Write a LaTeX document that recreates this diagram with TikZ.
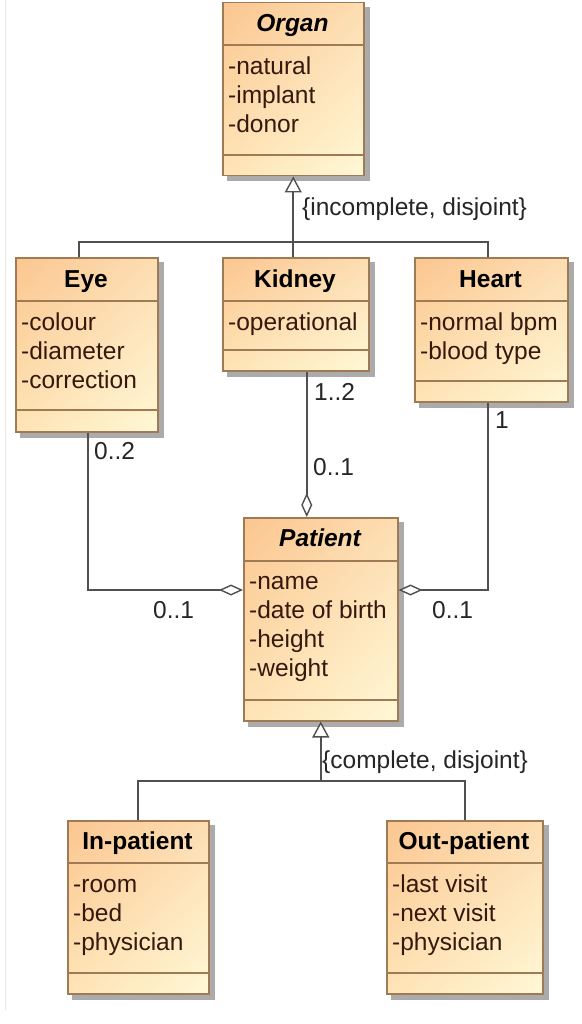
\documentclass[tikz,border=0pt]{standalone}
\usepackage{fontspec}
\setmainfont{Liberation Sans}
\usetikzlibrary{arrows.meta,shadings,calc,backgrounds}
\definecolor{boxborder}{HTML}{9E7A55}
\definecolor{shadowgray}{HTML}{ABABAB}
\definecolor{cUL}{HTML}{FBC690}
\definecolor{cUR}{HTML}{FDDDB2}
\definecolor{cLL}{HTML}{FEE4B6}
\definecolor{cLR}{HTML}{FFF8D6}
\definecolor{attrcol}{HTML}{35180E}
\definecolor{linecol}{HTML}{505050}
\definecolor{framecol}{HTML}{E6E6E6}
\newcommand\umlfont{\fontsize{24.5}{29}\selectfont}
\tikzset{
  classbox/.style={rectangle, draw=boxborder, line width=1.5pt, anchor=north west, inner sep=0pt,
    upper left=cUL, upper right=cUR, lower left=cLL, lower right=cLR},
  shadowbox/.style={fill=shadowgray},
  sepline/.style={draw=boxborder, line width=1.5pt},
  ctitle/.style={anchor=base, inner sep=0pt, font=\umlfont\bfseries, text=black},
  ctitleit/.style={anchor=base, inner sep=0pt, font=\umlfont\bfseries\itshape, text=black},
  attr/.style={anchor=base west, inner sep=0pt, font=\umlfont, text=attrcol},
  lbl/.style={anchor=base west, inner sep=0pt, font=\umlfont, text=black!85},
  conn/.style={draw=linecol, line width=1.6pt},
  aggr/.style={conn, -{Diamond[open, fill=white, length=24pt, width=11pt, line width=1.4pt]}},
  gen/.style={conn, -{Triangle[open, fill=white, length=16pt, width=17pt, line width=1.4pt]}},
}
\begin{document}
\begin{tikzpicture}[x=1pt, y=-1pt]
\useasboundingbox (0,0) rectangle (581,1024);

% class boxes
\node[classbox, minimum width=141pt, minimum height=173pt] (organ) at (222,2) {};
\node[classbox, minimum width=142pt, minimum height=174pt] (eye) at (15,257) {};
\node[classbox, minimum width=146pt, minimum height=113pt] (kidney) at (222,257) {};
\node[classbox, minimum width=153pt, minimum height=144pt] (heart) at (414,257) {};
\node[classbox, minimum width=154pt, minimum height=203pt] (patient) at (243,517) {};
\node[classbox, minimum width=141pt, minimum height=173pt] (inpat) at (67,820) {};
\node[classbox, minimum width=156pt, minimum height=173pt] (outpat) at (386,820) {};

\begin{scope}[on background layer]
  \fill[white] (0,0) rectangle (581,1024);
  \draw[framecol, line width=0.8pt] (5,0) -- (5,1010);
  \foreach \b in {organ,eye,kidney,heart,patient,inpat,outpat}{
    \fill[shadowbox] ($(\b.north west)+(5,5)$) rectangle ($(\b.south east)+(5,5)$);
  }
\end{scope}

% compartment separators
\draw[sepline] (organ.west |- 0,45) -- (organ.east |- 0,45);
\draw[sepline] (organ.west |- 0,155) -- (organ.east |- 0,155);
\draw[sepline] (eye.west |- 0,301) -- (eye.east |- 0,301);
\draw[sepline] (eye.west |- 0,410) -- (eye.east |- 0,410);
\draw[sepline] (kidney.west |- 0,301) -- (kidney.east |- 0,301);
\draw[sepline] (kidney.west |- 0,350) -- (kidney.east |- 0,350);
\draw[sepline] (heart.west |- 0,301) -- (heart.east |- 0,301);
\draw[sepline] (heart.west |- 0,381) -- (heart.east |- 0,381);
\draw[sepline] (patient.west |- 0,561) -- (patient.east |- 0,561);
\draw[sepline] (patient.west |- 0,700) -- (patient.east |- 0,700);
\draw[sepline] (inpat.west |- 0,863) -- (inpat.east |- 0,863);
\draw[sepline] (inpat.west |- 0,973) -- (inpat.east |- 0,973);
\draw[sepline] (outpat.west |- 0,863) -- (outpat.east |- 0,863);
\draw[sepline] (outpat.west |- 0,973) -- (outpat.east |- 0,973);

% texts
\node[ctitleit] (organ-t) at (292.5,32) {Organ};
\node[attr] (organ-a1) at (228,75) {-natural};
\node[attr] (organ-a2) at (228,104) {-implant};
\node[attr] (organ-a3) at (228,133) {-donor};

\node[ctitle] (eye-t) at (86,287) {Eye};
\node[attr] (eye-a1) at (21,330) {-colour};
\node[attr] (eye-a2) at (21,359) {-diameter};
\node[attr] (eye-a3) at (21,388) {-correction};

\node[ctitle] (kidney-t) at (295,287) {Kidney};
\node[attr] (kidney-a1) at (228,330) {-operational};

\node[ctitle] (heart-t) at (490.5,287) {Heart};
\node[attr] (heart-a1) at (420,330) {-normal bpm};
\node[attr] (heart-a2) at (420,359) {-blood type};

\node[ctitleit] (patient-t) at (320,546) {Patient};
\node[attr] (patient-a1) at (249,589) {-name};
\node[attr] (patient-a2) at (249,618) {-date of birth};
\node[attr] (patient-a3) at (249,647) {-height};
\node[attr] (patient-a4) at (249,676) {-weight};

\node[ctitle] (inpat-t) at (137.5,849) {In-patient};
\node[attr] (inpat-a1) at (73,892) {-room};
\node[attr] (inpat-a2) at (73,921) {-bed};
\node[attr] (inpat-a3) at (73,950) {-physician};

\node[ctitle] (outpat-t) at (464,849) {Out-patient};
\node[attr] (outpat-a1) at (392,892) {-last visit};
\node[attr] (outpat-a2) at (392,921) {-next visit};
\node[attr] (outpat-a3) at (392,950) {-physician};

% generalization: organ
\coordinate (gorg) at (organ.south |- 0,242);
\coordinate (eyetop) at ($(eye.north)+(-8,0)$);
\coordinate (hearttop) at ($(heart.north)+(-3,0)$);
\draw[conn] (eyetop) |- (gorg) -| (hearttop);
\draw[gen] (organ.south |- kidney.north) -- (organ.south);
\node[lbl] (incl) at (302,215) {\{incomplete, disjoint\}};

% aggregations
\coordinate (peye) at (patient.west |- 0,590);
\coordinate (pheart) at (patient.east |- 0,590);
\coordinate (eyebot) at ($(eye.south)+(1,0)$);
\coordinate (kidbot) at ($(kidney.south)+(11,0)$);
\coordinate (heartbot) at ($(heart.south)+(-3,0)$);
\draw[aggr] (eyebot) |- (peye);
\draw[aggr] (kidbot) -- (kidbot |- patient.north);
\draw[aggr] (heartbot) |- (pheart);
\node[lbl] (m-eye1) at (94,459) {0..2};
\node[lbl] (m-eye2) at (153,618) {0..1};
\node[lbl] (m-kid1) at (314,400) {1..2};
\node[lbl] (m-kid2) at (313,475) {0..1};
\node[lbl] (m-hea1) at (495,428) {1};
\node[lbl] (m-hea2) at (432,618) {0..1};

% generalization: patient
\coordinate (gpat) at (patient.south |- 0,781);
\draw[conn] (inpat.north) |- (gpat) -| (outpat.north);
\draw[gen] (gpat) -- (patient.south);
\node[lbl] (compl) at (322,768) {\{complete, disjoint\}};
\end{tikzpicture}
\end{document}
